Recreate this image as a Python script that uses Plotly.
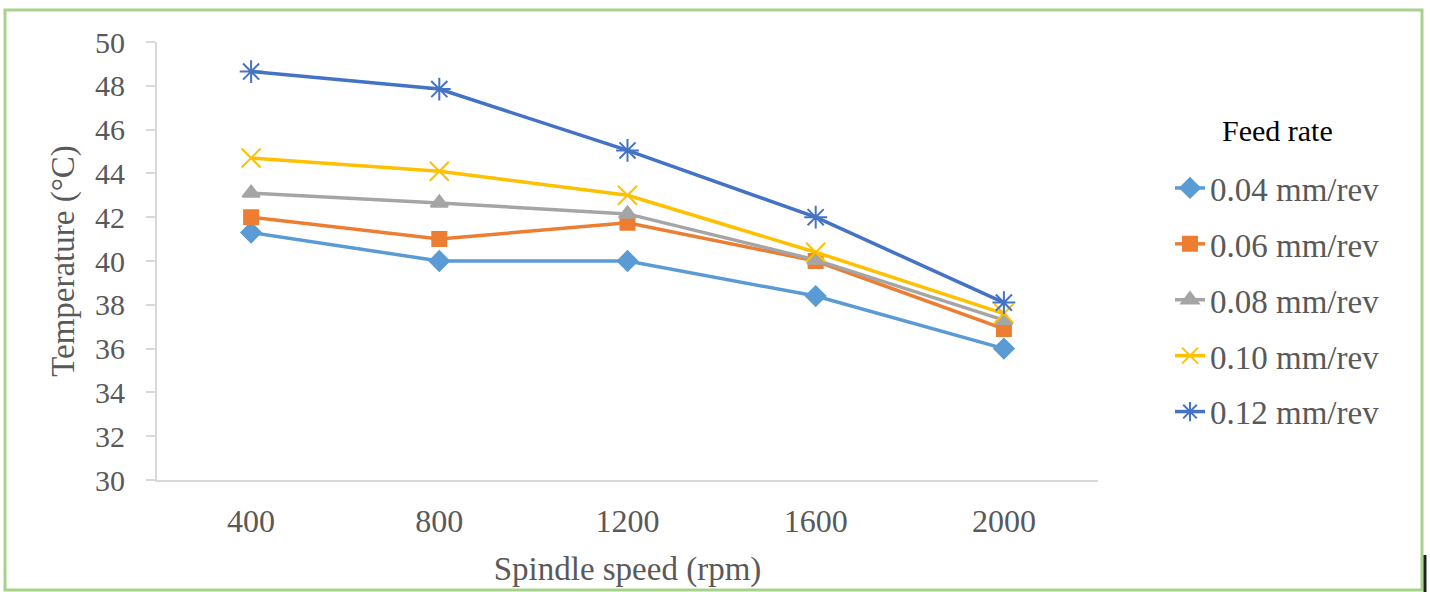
import plotly.graph_objects as go

speeds = ["400", "800", "1200", "1600", "2000"]
feed_labels = ["0.04 mm/rev", "0.06 mm/rev", "0.08 mm/rev", "0.10 mm/rev", "0.12 mm/rev"]
t_004 = [41.3, 40.0, 40.0, 38.4, 36.0]
t_006 = [42.0, 41.0, 41.75, 40.0, 36.9]
t_008 = [43.1, 42.65, 42.15, 40.05, 37.3]
t_010 = [44.7, 44.1, 43.0, 40.4, 37.6]
t_012 = [48.65, 47.85, 45.05, 42.0, 38.1]
y_ticks = [30, 32, 34, 36, 38, 40, 42, 44, 46, 48, 50]

series = [t_004, t_006, t_008, t_010, t_012]
colors = ["#5B9BD5", "#ED7D31", "#A5A5A5", "#FFC000", "#4472C4"]
symbols = ["diamond", "square", "triangle-up", "x-thin-open", "asterisk-open"]
msizes = [15, 14, 15, 19, 19]

FONT = "Liberation Serif"

fig = go.Figure()
for i, (lab, ys) in enumerate(zip(feed_labels, series)):
    fig.add_trace(go.Scatter(
        x=speeds, y=ys, mode="lines+markers", name=lab,
        legendgroup=f"g{i}",
        line=dict(color=colors[i], width=3.5),
        marker=dict(symbol=symbols[i], size=msizes[i], color=colors[i],
                    line=dict(color=colors[i], width=2)),
    ))

L, R, T, B = 157, 332, 42, 112
W, H = 1430, 592
pw, ph = W - L - R, H - T - B

def px_x(x):
    return (x - L) / pw

def px_y(y):
    return (H - B - y) / ph

fig.update_layout(
    width=W, height=H,
    margin=dict(l=L, r=R, t=T, b=B),
    paper_bgcolor="white", plot_bgcolor="white",
    font=dict(family=FONT, size=29, color="#595959"),
    showlegend=True,
    legend=dict(
        x=px_x(1170), y=px_y(160), xanchor="left", yanchor="top",
        font=dict(family=FONT, size=33, color="#595959"),
        tracegroupgap=10,
        bgcolor="rgba(0,0,0,0)",
    ),
    annotations=[
        dict(text="Feed rate", xref="paper", yref="paper",
             x=px_x(1277), y=px_y(130), xanchor="center", yanchor="middle",
             showarrow=False,
             font=dict(family=FONT, size=30, color="#000000")),
    ],
    xaxis=dict(
        type="category", range=[-0.5, 4.5],
        showline=True, linecolor="#D9D9D9", linewidth=2,
        showgrid=False, zeroline=False,
        ticks="", ticklabelstandoff=12,
        tickfont=dict(family=FONT, size=32, color="#595959"),
        title=dict(text="Spindle speed (rpm)", standoff=18,
                   font=dict(family=FONT, size=33, color="#595959")),
    ),
    yaxis=dict(
        range=[30, 50], tickvals=y_ticks,
        showline=True, linecolor="#D9D9D9", linewidth=2,
        showgrid=False, zeroline=False,
        ticks="outside", ticklen=9, tickcolor="#D9D9D9", tickwidth=2,
        ticklabelstandoff=15,
        tickfont=dict(family=FONT, size=30, color="#595959"),
        title=dict(text="Temperature (°C)", standoff=10,
                   font=dict(family=FONT, size=33, color="#595959")),
    ),
    shapes=[
        dict(type="rect", xref="paper", yref="paper",
             x0=px_x(5), x1=px_x(1422), y0=px_y(590), y1=px_y(10),
             line=dict(color="#A9D18E", width=3), fillcolor="rgba(0,0,0,0)",
             layer="below"),
        dict(type="line", xref="paper", yref="paper",
             x0=px_x(1425), x1=px_x(1425), y0=px_y(592), y1=px_y(555),
             line=dict(color="#222222", width=3)),
    ],
)

fig.write_html("out.html", config={"displayModeBar": False},
               post_script="document.body.style.margin='0px';document.body.style.overflow='hidden';")
